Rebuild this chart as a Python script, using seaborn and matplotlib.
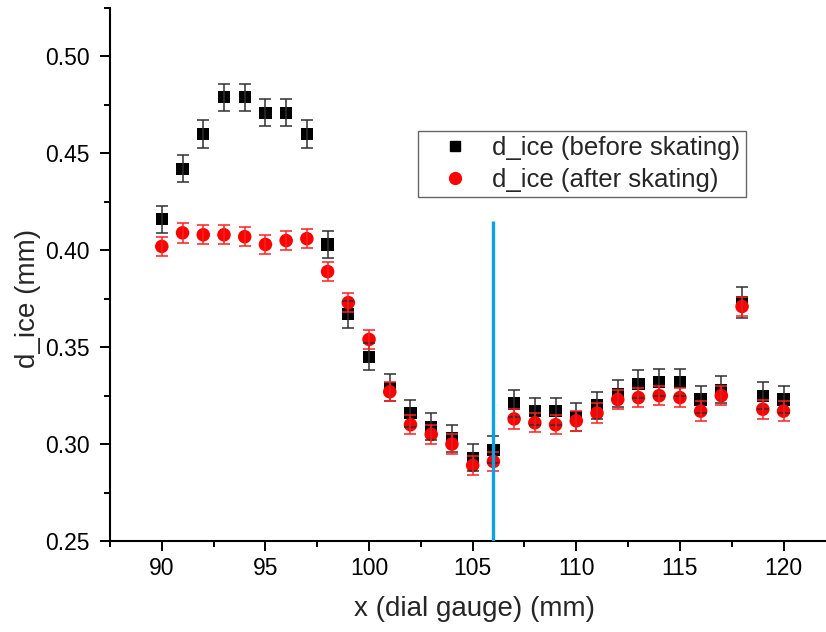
import matplotlib
matplotlib.use("Agg")
import matplotlib.pyplot as plt
from matplotlib.lines import Line2D
from matplotlib.ticker import MultipleLocator, FormatStrFormatter
import seaborn as sns
import pandas as pd

# ---- data ----
x_pos = list(range(90, 121))
d_before = [0.416, 0.442, 0.460, 0.479, 0.479, 0.471, 0.471, 0.460, 0.403, 0.367,
            0.345, 0.329, 0.316, 0.309, 0.303, 0.293, 0.297, 0.321, 0.317, 0.317,
            0.314, 0.320, 0.326, 0.331, 0.332, 0.332, 0.323, 0.328, 0.373, 0.325, 0.323]
d_after = [0.402, 0.409, 0.408, 0.408, 0.407, 0.403, 0.405, 0.406, 0.389, 0.373,
           0.354, 0.327, 0.310, 0.305, 0.300, 0.289, 0.291, 0.313, 0.311, 0.310,
           0.312, 0.316, 0.323, 0.324, 0.325, 0.324, 0.317, 0.325, 0.371, 0.318, 0.317]
err_before = [0.007] * 28 + [0.008, 0.007, 0.007]
err_after = [0.005] * 31
series_names = ["d_ice (before skating)", "d_ice (after skating)"]
divider_x = 106
divider_top = 0.415

df = pd.DataFrame({
    "x": x_pos * 2,
    "d": d_before + d_after,
    "err": err_before + err_after,
    "series": [series_names[0]] * len(x_pos) + [series_names[1]] * len(x_pos),
})

sns.set_style("ticks")
plt.rcParams["font.family"] = ["Liberation Sans", "DejaVu Sans"]

fig = plt.figure(figsize=(8.26, 6.32), dpi=100)
ax = fig.add_axes([110 / 826, 1 - 541 / 632, 716 / 826, 533 / 632])

colors = {series_names[0]: "black", series_names[1]: "#ff0000"}
ecolors = {series_names[0]: "#303030", series_names[1]: "#ff2020"}
markers = {series_names[0]: "s", series_names[1]: "o"}
sizes = {series_names[0]: 78, series_names[1]: 95}

for name in series_names:
    sub = df[df["series"] == name]
    sns.scatterplot(data=sub, x="x", y="d", marker=markers[name], color=colors[name],
                    s=sizes[name], edgecolor="none", linewidth=0, ax=ax, zorder=2,
                    legend=False)
for name in series_names:
    sub = df[df["series"] == name]
    ax.errorbar(sub["x"], sub["d"], yerr=sub["err"], fmt="none", ecolor=ecolors[name],
                elinewidth=1.1, capsize=4.3, capthick=1.1, zorder=3)

ax.vlines(divider_x, 0.25, divider_top, color="#0aa2e6", linewidth=2.4, zorder=4)

ax.set_xlim(87.5, 122.05)
ax.set_ylim(0.25, 0.525)
ax.xaxis.set_major_locator(MultipleLocator(5))
ax.xaxis.set_minor_locator(MultipleLocator(2.5))
ax.yaxis.set_major_locator(MultipleLocator(0.05))
ax.yaxis.set_minor_locator(MultipleLocator(0.025))
ax.yaxis.set_major_formatter(FormatStrFormatter("%.2f"))
ax.xaxis.set_major_formatter(FormatStrFormatter("%d"))

sns.despine(ax=ax)
for side in ["left", "bottom"]:
    ax.spines[side].set_linewidth(1.5)
    ax.spines[side].set_color("black")
ax.tick_params(axis="both", which="major", length=7.5, width=1.4, color="black",
               labelsize=16.5, labelcolor="black")
ax.tick_params(axis="both", which="minor", length=4, width=1.4, color="black")
ax.tick_params(axis="x", which="major", pad=4)
ax.tick_params(axis="y", which="major", pad=7)

ax.set_xlabel("x (dial gauge) (mm)", fontsize=20)
ax.set_ylabel("d_ice (mm)", fontsize=20)
ax.xaxis.set_label_coords((474 - 110) / 716, -(596 - 541) / 533)
ax.yaxis.set_label_coords(-(110 - 41) / 716, (541 - 298.5) / 533)
ax.yaxis.label.set_va("bottom")

handles = [
    Line2D([], [], linestyle="none", marker="s", color="black", markersize=7.5),
    Line2D([], [], linestyle="none", marker="o", color="#ff0000", markersize=8.5),
]
leg = ax.legend(handles, series_names, loc="upper left",
                bbox_to_anchor=((418 - 110) / 716, (541 - 130.7) / 533),
                borderaxespad=0, fontsize=18.5, frameon=True, fancybox=False,
                edgecolor="#404040", handlelength=2.5, handletextpad=0.19,
                borderpad=0.2, labelspacing=0.3)
leg.get_frame().set_linewidth(1.0)

fig.savefig("out.png", dpi=100)
